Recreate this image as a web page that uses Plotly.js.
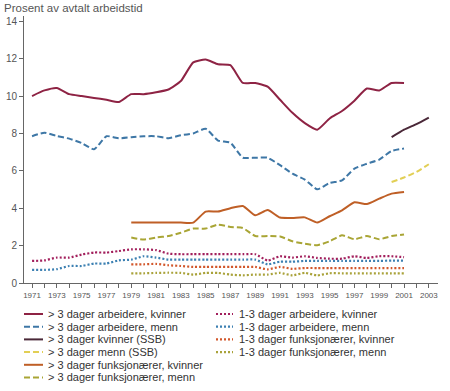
<!DOCTYPE html>
<html>
<head>
<meta charset="utf-8">
<script src="https://cdn.plot.ly/plotly-3.0.1.min.js"></script>
<style>html,body{margin:0;padding:0;background:#fff;}#chart{width:450px;height:391px;}</style>
</head>
<body>
<div id="chart"></div>
<script>
// ---- Data ----
var yearsArb = [1971,1972,1973,1974,1975,1976,1977,1978,1979,1980,1981,1982,1983,1984,1985,1986,1987,1988,1989,1990,1991,1992,1993,1994,1995,1996,1997,1998,1999,2000,2001];
var yearsFunk = [1979,1980,1981,1982,1983,1984,1985,1986,1987,1988,1989,1990,1991,1992,1993,1994,1995,1996,1997,1998,1999,2000,2001];
var yearsSSB = [2000,2001,2002,2003];

var arbKvinner3 = [10.0,10.3,10.43,10.1,10.0,9.9,9.8,9.68,10.1,10.1,10.2,10.35,10.8,11.8,11.95,11.7,11.65,10.7,10.7,10.5,9.8,9.1,8.55,8.2,8.8,9.2,9.75,10.4,10.3,10.7,10.7];
var arbMenn3 = [7.85,8.04,7.86,7.72,7.49,7.15,7.85,7.74,7.8,7.85,7.85,7.74,7.9,8.0,8.25,7.62,7.5,6.7,6.7,6.7,6.3,5.85,5.53,5.01,5.35,5.49,6.12,6.38,6.6,7.06,7.19];
var ssbKvinner3 = [7.8,8.2,8.5,8.85];
var ssbMenn3 = [5.4,5.64,5.94,6.35];
var funkKvinner3 = [3.23,3.23,3.23,3.23,3.23,3.23,3.82,3.82,4.0,4.12,3.62,3.9,3.5,3.48,3.51,3.23,3.57,3.89,4.32,4.22,4.51,4.78,4.87];
var funkMenn3 = [2.43,2.32,2.43,2.51,2.69,2.91,2.91,3.12,3.0,2.94,2.51,2.51,2.49,2.23,2.1,2.02,2.23,2.55,2.34,2.51,2.34,2.51,2.6];
var arbKvinner13 = [1.18,1.21,1.36,1.36,1.52,1.63,1.63,1.71,1.8,1.8,1.76,1.57,1.54,1.54,1.54,1.54,1.54,1.54,1.54,1.2,1.43,1.36,1.43,1.34,1.3,1.3,1.43,1.34,1.43,1.43,1.38];
var arbMenn13 = [0.7,0.7,0.74,0.91,0.91,1.04,1.04,1.21,1.25,1.43,1.36,1.25,1.25,1.25,1.25,1.25,1.25,1.25,1.25,1.0,1.14,1.14,1.18,1.18,1.18,1.18,1.18,1.18,1.18,1.2,1.2];
var funkKvinner13 = [1.0,1.0,1.02,0.95,0.91,0.86,0.86,0.86,0.86,0.86,0.86,0.73,0.86,0.76,0.8,0.8,0.8,0.8,0.8,0.8,0.8,0.8,0.8];
var funkMenn13 = [0.52,0.52,0.54,0.55,0.54,0.45,0.54,0.54,0.45,0.41,0.45,0.45,0.54,0.41,0.54,0.41,0.52,0.52,0.52,0.52,0.52,0.52,0.52];

var names = [
  "> 3 dager arbeidere, kvinner",
  "> 3 dager arbeidere, menn",
  "> 3 dager kvinner (SSB)",
  "> 3 dager menn (SSB)",
  "> 3 dager funksjonærer, kvinner",
  "> 3 dager funksjonærer, menn",
  "1-3 dager arbeidere, kvinner",
  "1-3 dager arbeidere, menn",
  "1-3 dager funksjonærer, kvinner",
  "1-3 dager funksjonærer, menn"
];
var tickYears = [];
for (var yy = 1971; yy <= 2003; yy++) tickYears.push(yy);
var tickText = tickYears.map(function(v){ return (v % 2 === 1) ? String(v) : ""; });

// ---- Styles ----
var DASH = "6px,3px", DOT = "2px,2px";
var series = [
  {x: yearsArb,  y: arbKvinner3,  color: "#8e2344", dash: "solid", w: 2},
  {x: yearsArb,  y: arbMenn3,     color: "#3e77a6", dash: DASH,    w: 2},
  {x: yearsSSB,  y: ssbKvinner3,  color: "#4a2838", dash: "solid", w: 2},
  {x: yearsSSB,  y: ssbMenn3,     color: "#e2cf55", dash: DASH,    w: 2},
  {x: yearsFunk, y: funkKvinner3, color: "#bf5f26", dash: "solid", w: 2},
  {x: yearsFunk, y: funkMenn3,    color: "#a9a535", dash: DASH,    w: 2},
  {x: yearsArb,  y: arbKvinner13, color: "#a21f5c", dash: DOT,     w: 2.2},
  {x: yearsArb,  y: arbMenn13,    color: "#3c80b2", dash: DOT,     w: 2.2},
  {x: yearsFunk, y: funkKvinner13,color: "#d2572b", dash: DOT,     w: 2.2},
  {x: yearsFunk, y: funkMenn13,   color: "#a9a23a", dash: DOT,     w: 2.2}
];

var traces = series.map(function(s, i){
  return {
    type: "scatter", mode: "lines", x: s.x, y: s.y, name: names[i],
    line: {color: s.color, width: s.w, dash: s.dash, shape: "spline", smoothing: 0.5},
    showlegend: false, hoverinfo: "skip"
  };
});

// ---- Layout geometry ----
var W = 450, H = 391, ML = 24, MR = 12, MT = 16, MB = 108;
var PW = W - ML - MR, PH = H - MT - MB;
function px2x(px){ return (px - ML) / PW; }
function py2y(py){ return (H - MB - py) / PH; }

// manual legend (two columns)
var shapes = [], annotations = [];
var rowY0 = 314, rowStep = 12.7;
series.forEach(function(s, i){
  var col = i < 6 ? 0 : 1;
  var row = col === 0 ? i : i - 6;
  var sx0 = col === 0 ? 24 : 216, sx1 = col === 0 ? 43 : 233, tx = col === 0 ? 46 : 237;
  var py = rowY0 + row * rowStep;
  shapes.push({type: "line", xref: "paper", yref: "paper",
    x0: px2x(sx0), x1: px2x(sx1), y0: py2y(py), y1: py2y(py),
    line: {color: s.color, width: s.w, dash: s.dash}});
  annotations.push({xref: "paper", yref: "paper", x: px2x(tx), y: py2y(py),
    xanchor: "left", yanchor: "middle", showarrow: false, text: names[i],
    font: {family: "Liberation Sans, Arial, sans-serif", size: 11, color: "#333"}});
});

// title as annotation so it is fully inside the picture
annotations.push({xref: "paper", yref: "paper", x: px2x(3), y: py2y(1), xanchor: "left", yanchor: "top",
  showarrow: false, text: "Prosent av avtalt arbeidstid", borderpad: 0,
  font: {family: "Liberation Sans, Arial, sans-serif", size: 11.5, color: "#555"}});

var layout = {
  width: W, height: H,
  margin: {l: ML, r: MR, t: MT, b: MB, pad: 0},
  paper_bgcolor: "#fff", plot_bgcolor: "#fff",
  font: {family: "Liberation Sans, Arial, sans-serif", color: "#444"},
  xaxis: {range: [1970.35, 2003.74], tickmode: "array", tickvals: tickYears, ticktext: tickText,
          ticks: "outside", ticklen: 4, tickcolor: "#666", tickwidth: 1,
          showline: true, linecolor: "#666", linewidth: 1, showgrid: false, zeroline: false,
          tickfont: {family: "Liberation Sans Narrow, Arial Narrow, Arial, sans-serif", size: 8, color: "#555"},
          fixedrange: true},
  yaxis: {range: [0, 14.28], tickmode: "array", tickvals: [0,2,4,6,8,10,12,14],
          ticks: "outside", ticklen: 4, tickcolor: "#666", tickwidth: 1,
          showline: true, linecolor: "#666", linewidth: 1, showgrid: false, zeroline: false,
          tickfont: {size: 10, color: "#555"}, fixedrange: true},
  showlegend: false,
  shapes: shapes,
  annotations: annotations
};

Plotly.newPlot("chart", traces, layout, {staticPlot: true, displayModeBar: false});
</script>
</body>
</html>
